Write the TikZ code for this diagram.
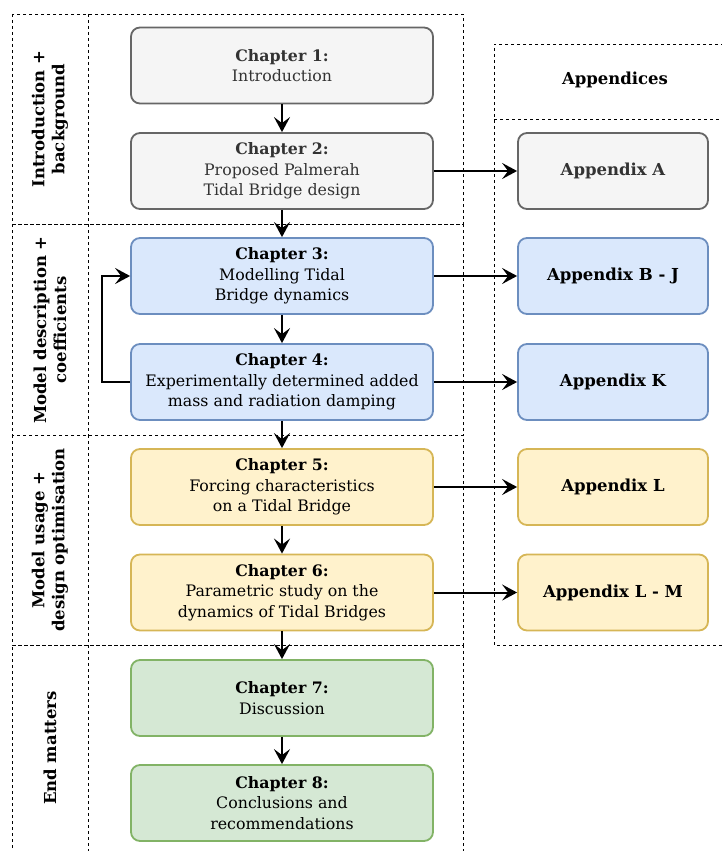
\documentclass[tikz,border=0pt]{standalone}
\usepackage{fontspec}
\setmainfont{DejaVu Serif}
\usetikzlibrary{arrows.meta}

\definecolor{greyfill}{HTML}{F5F5F5}
\definecolor{greyline}{HTML}{666666}
\definecolor{greytext}{HTML}{333333}
\definecolor{bluefill}{HTML}{DAE8FC}
\definecolor{blueline}{HTML}{6C8EBF}
\definecolor{yellowfill}{HTML}{FFF2CC}
\definecolor{yellowline}{HTML}{D6B656}
\definecolor{greenfill}{HTML}{D5E8D4}
\definecolor{greenline}{HTML}{82B366}

\begin{document}
\begin{tikzpicture}[x=1pt, y=-1pt,
  chap/.style={draw, line width=1.8pt, rounded corners=9pt, minimum width=302pt,
    minimum height=76pt, inner sep=0pt, align=center, font=\fontsize{15.8}{20.5}\selectfont},
  app/.style={chap, minimum width=190pt, font=\fontsize{16.5}{20.5}\selectfont\bfseries},
  grey/.style={fill=greyfill, draw=greyline, text=greytext},
  blue/.style={fill=bluefill, draw=blueline},
  yellow/.style={fill=yellowfill, draw=yellowline},
  green/.style={fill=greenfill, draw=greenline},
  frame/.style={dashed, line width=0.8pt, dash pattern=on 3pt off 3pt},
  side/.style={rotate=90, align=center, font=\fontsize{16.5}{20}\selectfont\bfseries},
  arr/.style={line width=2pt, -{Stealth[length=15pt, width=16pt, inset=6pt]}}]
\useasboundingbox (0,0) rectangle (721,851);

% section frames
\draw[frame] (12,14) rectangle (463,224);
\draw[frame] (88,14) -- (88,224);
\draw[frame] (12,224) rectangle (463,435);
\draw[frame] (88,224) -- (88,435);
\draw[frame] (12,435) rectangle (463,645);
\draw[frame] (88,435) -- (88,645);
\draw[frame] (12,860) -- (12,645) -- (463,645) -- (463,860);
\draw[frame] (88,645) -- (88,860);

\node[side] (s1) at (50,119) {Introduction +\\background};
\node[side] (s2) at (50,330) {Model description +\\coefficients};
\node[side] (s3) at (50,540) {Model usage +\\design optimisation};
\node[side] (s4) at (50,748) {End matters};

% appendices frame
\draw[frame] (730,44) -- (494,44) -- (494,645) -- (730,645);
\draw[frame] (494,119) -- (730,119);
\node[font=\fontsize{16.5}{20}\selectfont\bfseries] (apps) at (615,80) {Appendices};

% chapters
\node[chap, grey] (ch1) at (282,65.5) {\textbf{Chapter 1:}\\Introduction};
\node[chap, grey] (ch2) at (282,171) {\textbf{Chapter 2:}\\Proposed Palmerah\\Tidal Bridge design};
\node[chap, blue] (ch3) at (282,276) {\textbf{Chapter 3:}\\Modelling Tidal\\Bridge dynamics};
\node[chap, blue] (ch4) at (282,382) {\textbf{Chapter 4:}\\Experimentally determined added\\mass and radiation damping};
\node[chap, yellow] (ch5) at (282,487) {\textbf{Chapter 5:}\\Forcing characteristics\\on a Tidal Bridge};
\node[chap, yellow] (ch6) at (282,592.5) {\textbf{Chapter 6:}\\Parametric study on the\\dynamics of Tidal Bridges};
\node[chap, green] (ch7) at (282,698) {\textbf{Chapter 7:}\\Discussion};
\node[chap, green] (ch8) at (282,803) {\textbf{Chapter 8:}\\Conclusions and\\recommendations};

% appendices
\node[app, grey] (appA) at (613,171) {Appendix A};
\node[app, blue] (appBJ) at (613,276) {Appendix B - J};
\node[app, blue] (appK) at (613,382) {Appendix K};
\node[app, yellow] (appL) at (613,487) {Appendix L};
\node[app, yellow] (appLM) at (613,592.5) {Appendix L - M};

\draw[arr] (ch1) -- (ch2);
\draw[arr] (ch2) -- (ch3);
\draw[arr] (ch3) -- (ch4);
\draw[arr] (ch4) -- (ch5);
\draw[arr] (ch5) -- (ch6);
\draw[arr] (ch6) -- (ch7);
\draw[arr] (ch7) -- (ch8);

\draw[arr] (ch2) -- (appA);
\draw[arr] (ch3) -- (appBJ);
\draw[arr] (ch4) -- (appK);
\draw[arr] (ch5) -- (appL);
\draw[arr] (ch6) -- (appLM);

% feedback loop
\draw[arr] (ch4.west) -| (102,276) -- (ch3.west);

\end{tikzpicture}
\end{document}
